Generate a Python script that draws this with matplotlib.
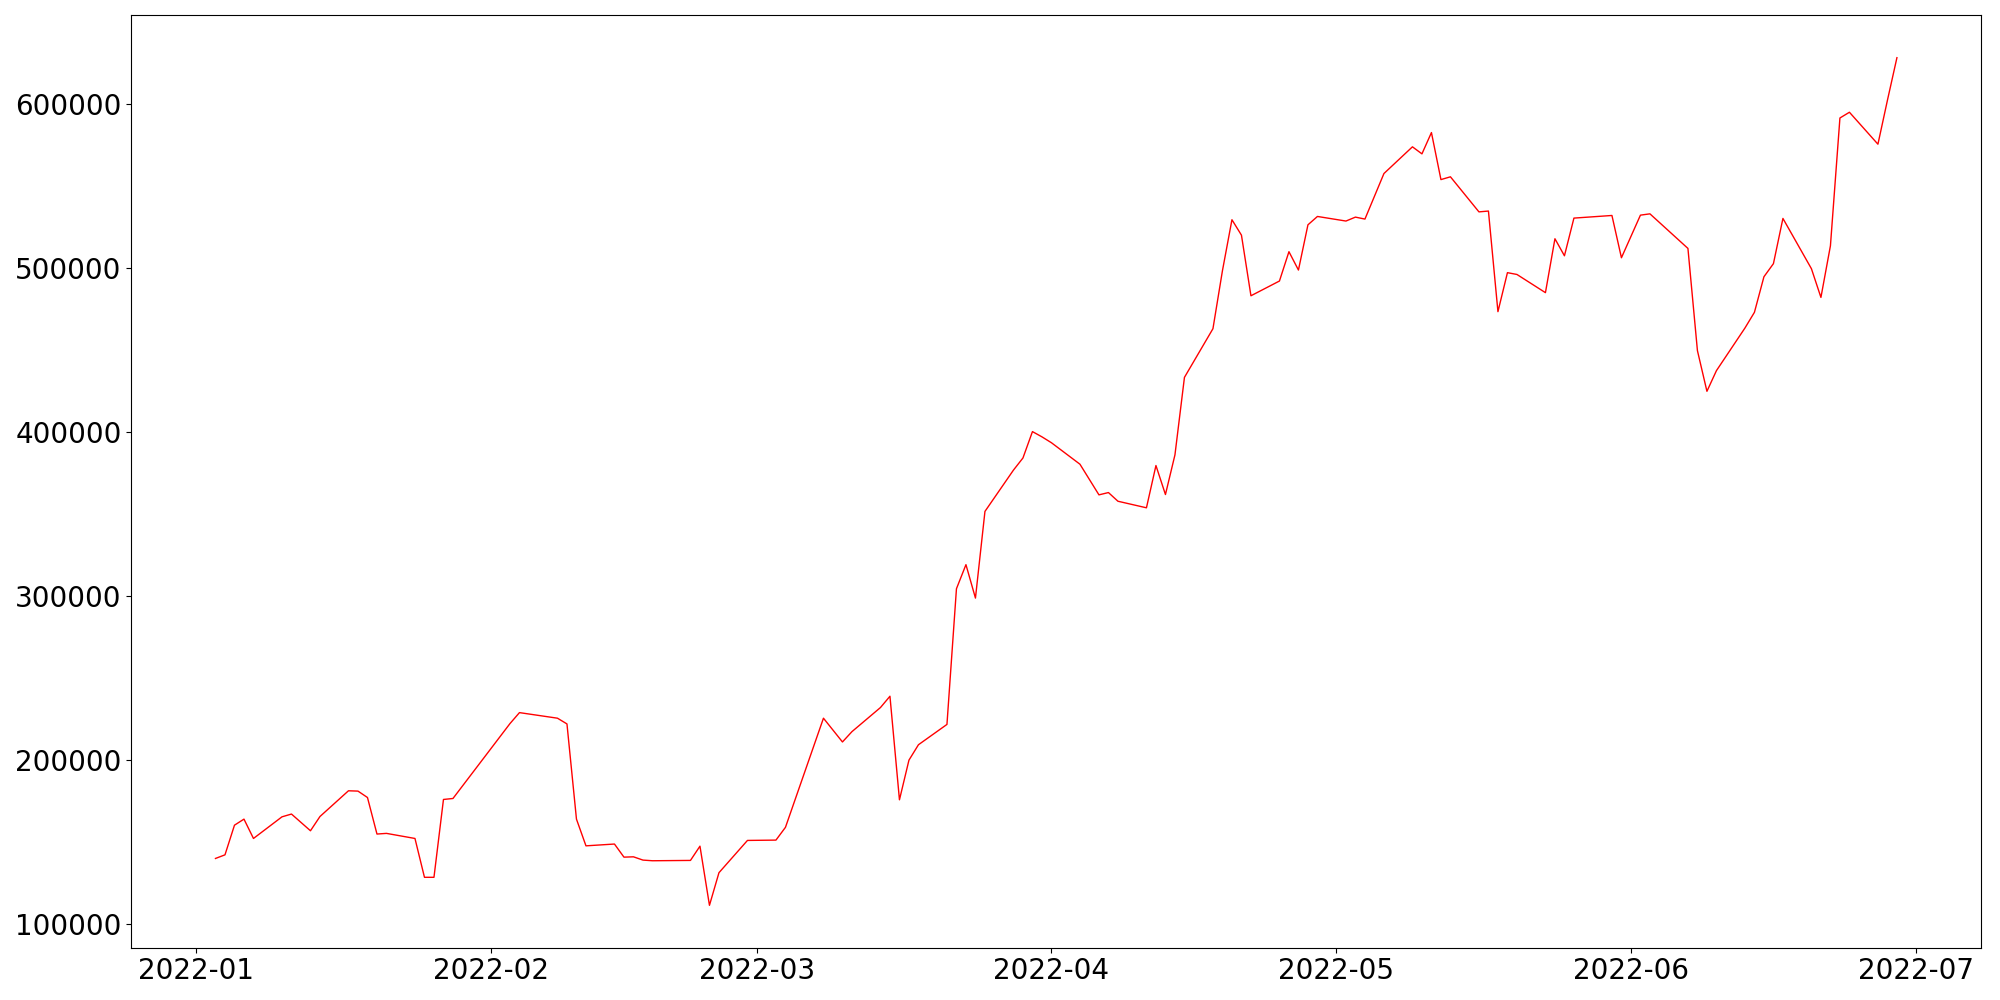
import numpy as np
import pandas as pd
import matplotlib
matplotlib.use("Agg")
import matplotlib.pyplot as plt

dates = ["2022-01-03", "2022-01-04", "2022-01-05", "2022-01-06", "2022-01-07",
         "2022-01-10", "2022-01-11", "2022-01-13", "2022-01-14",
         "2022-01-17", "2022-01-18", "2022-01-19", "2022-01-20", "2022-01-21",
         "2022-01-24", "2022-01-25", "2022-01-26", "2022-01-27", "2022-01-28",
         "2022-02-03", "2022-02-04", "2022-02-08", "2022-02-09", "2022-02-10", "2022-02-11",
         "2022-02-14", "2022-02-15", "2022-02-16", "2022-02-17", "2022-02-18",
         "2022-02-22", "2022-02-23", "2022-02-24", "2022-02-25",
         "2022-02-28", "2022-03-03", "2022-03-04",
         "2022-03-08", "2022-03-10", "2022-03-11",
         "2022-03-14", "2022-03-15", "2022-03-16", "2022-03-17", "2022-03-18",
         "2022-03-21", "2022-03-22", "2022-03-23", "2022-03-24", "2022-03-25",
         "2022-03-28", "2022-03-29", "2022-03-30", "2022-03-31", "2022-04-01",
         "2022-04-04", "2022-04-06", "2022-04-07", "2022-04-08",
         "2022-04-11", "2022-04-12", "2022-04-13", "2022-04-14", "2022-04-15",
         "2022-04-18", "2022-04-19", "2022-04-20", "2022-04-21", "2022-04-22",
         "2022-04-25", "2022-04-26", "2022-04-27", "2022-04-28", "2022-04-29",
         "2022-05-02", "2022-05-03", "2022-05-04", "2022-05-06",
         "2022-05-09", "2022-05-10", "2022-05-11", "2022-05-12", "2022-05-13",
         "2022-05-16", "2022-05-17", "2022-05-18", "2022-05-19", "2022-05-20",
         "2022-05-23", "2022-05-24", "2022-05-25", "2022-05-26",
         "2022-05-30", "2022-05-31", "2022-06-02", "2022-06-03",
         "2022-06-07", "2022-06-08", "2022-06-09", "2022-06-10",
         "2022-06-13", "2022-06-14", "2022-06-15", "2022-06-16", "2022-06-17",
         "2022-06-20", "2022-06-21", "2022-06-22", "2022-06-23", "2022-06-24",
         "2022-06-27", "2022-06-28", "2022-06-29"]

values = [139700, 141900, 160000, 163700, 151900,
          165100, 166800, 156600, 165300,
          181000, 180800, 176900, 154600, 155000,
          151900, 128200, 128200, 175700, 176300,
          222000, 228700, 225300, 221800, 163700, 147400,
          148500, 140500, 140700, 138700, 138300,
          138500, 147200, 111100, 131000,
          150700, 150900, 158700,
          225300, 210800, 217100,
          231800, 238700, 175500, 199700, 209100,
          221500, 304300, 319000, 298600, 351500,
          376700, 384100, 400200, 397000, 393400,
          380300, 361600, 363000, 357700,
          353700, 379500, 361800, 386000, 433300,
          463000, 498400, 529500, 520100, 483100,
          492100, 510000, 498800, 526400, 531500,
          528700, 531100, 529900, 557700,
          574000, 569700, 582700, 554000, 555700,
          534300, 534800, 473400, 497200, 496100,
          485000, 517900, 507500, 530500,
          532100, 506300, 532300, 533100,
          512000, 449600, 424800, 437400,
          463400, 473000, 494700, 502700, 530300,
          499600, 482100, 513600, 591600, 595100,
          575600, 602400, 628400]

s = pd.Series(values, index=pd.to_datetime(dates))

fig, ax = plt.subplots(figsize=(20, 10), dpi=100)
ax.plot(s.index, s.values, color="red", linewidth=1)
ax.tick_params(axis="both", labelsize=20)
fig.subplots_adjust(left=0.0657, right=0.9905, top=0.9847, bottom=0.0523)
fig.savefig("out.png")
